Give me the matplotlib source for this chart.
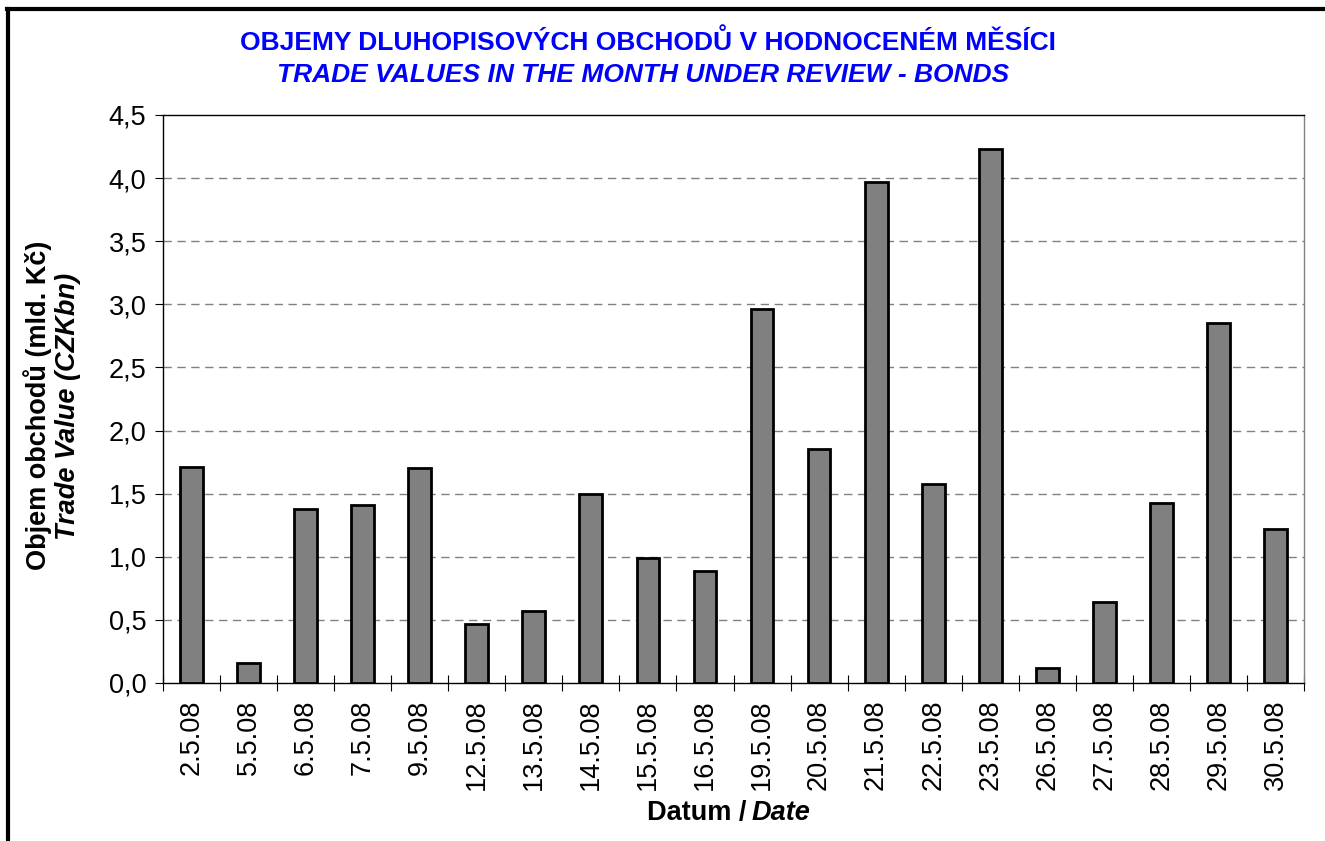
import matplotlib
matplotlib.use("Agg")
import matplotlib.pyplot as plt
from matplotlib.lines import Line2D

dates = ["2.5.08", "5.5.08", "6.5.08", "7.5.08", "9.5.08", "12.5.08", "13.5.08",
         "14.5.08", "15.5.08", "16.5.08", "19.5.08", "20.5.08", "21.5.08", "22.5.08",
         "23.5.08", "26.5.08", "27.5.08", "28.5.08", "29.5.08", "30.5.08"]
values = [1.71, 0.16, 1.38, 1.41, 1.70, 0.47, 0.57, 1.50, 0.99, 0.89,
          2.96, 1.85, 3.97, 1.58, 4.23, 0.12, 0.64, 1.43, 2.85, 1.22]
yticks = [0.0, 0.5, 1.0, 1.5, 2.0, 2.5, 3.0, 3.5, 4.0, 4.5]
ytick_labels = ["0,0", "0,5", "1,0", "1,5", "2,0", "2,5", "3,0", "3,5", "4,0", "4,5"]

plt.rcParams['font.family'] = ['Liberation Sans', 'DejaVu Sans']

W, H = 1325, 841
fig = plt.figure(figsize=(W / 100, H / 100), dpi=100)
left, right, top, bottom = 163, 1304, 115, 683
ax = fig.add_axes([left / W, 1 - bottom / H, (right - left) / W, (bottom - top) / H])

FS = 19.5
x = list(range(len(dates)))
ax.bar(x, values, width=0.4, color="#808080", edgecolor="black", linewidth=2.0, zorder=3)
ax.set_xlim(-0.5, len(dates) - 0.5)
ax.set_ylim(0, 4.5)
ax.set_yticks(yticks)
ax.set_yticklabels(ytick_labels, fontsize=FS)
ax.set_xticks([i + 0.5 for i in range(-1, len(dates))], minor=False)
ax.set_xticklabels([])
ax.set_xticks(x, minor=True)
ax.set_xticklabels(dates, minor=True, rotation=90, fontsize=FS)
ax.tick_params(axis='x', which='major', direction='inout', length=12, width=0.8)
ax.tick_params(axis='x', which='minor', length=0, pad=12)
ax.tick_params(axis='y', direction='out', length=6, width=0.8, pad=6)

for yv in yticks[1:-1]:
    ax.axhline(yv, color="#808080", linestyle=(0, (6, 4)), linewidth=1.0, zorder=1)

for s in ["left", "bottom", "top"]:
    ax.spines[s].set_color("black")
    ax.spines[s].set_linewidth(1.0)
ax.spines["right"].set_color("#808080")
ax.spines["right"].set_linewidth(1.0)

blue = "#0000FF"
fig.text(648 / W, 1 - 42 / H, "OBJEMY DLUHOPISOVÝCH OBCHODŮ V HODNOCENÉM MĚSÍCI",
         color=blue, fontsize=19, fontweight="bold", ha="center", va="center")
fig.text(643 / W, 1 - 75 / H, "TRADE VALUES IN THE MONTH UNDER REVIEW - BONDS",
         color=blue, fontsize=19, fontweight="bold", fontstyle="italic", ha="center", va="center")

fig.text(38 / W, 1 - 405 / H, "Objem obchodů (mld. Kč)", fontsize=FS, fontweight="bold",
         rotation=90, ha="center", va="center")
fig.text(68 / W, 1 - 406 / H, "Trade Value (CZKbn)", fontsize=FS, fontweight="bold",
         fontstyle="italic", rotation=90, ha="center", va="center")

fig.text(746 / W, 1 - 813 / H, "Datum /", fontsize=FS, fontweight="bold", ha="right", va="center")
fig.text(752 / W, 1 - 813 / H, "Date", fontsize=FS, fontweight="bold", fontstyle="italic",
         ha="left", va="center")

fig.add_artist(Line2D([8 / W, 8 / W], [0, 1 - 9 / H], transform=fig.transFigure,
                      color="black", linewidth=3))
fig.add_artist(Line2D([6.5 / W, 1], [1 - 9 / H, 1 - 9 / H], transform=fig.transFigure,
                      color="black", linewidth=3))

fig.savefig("out.png", dpi=100)
